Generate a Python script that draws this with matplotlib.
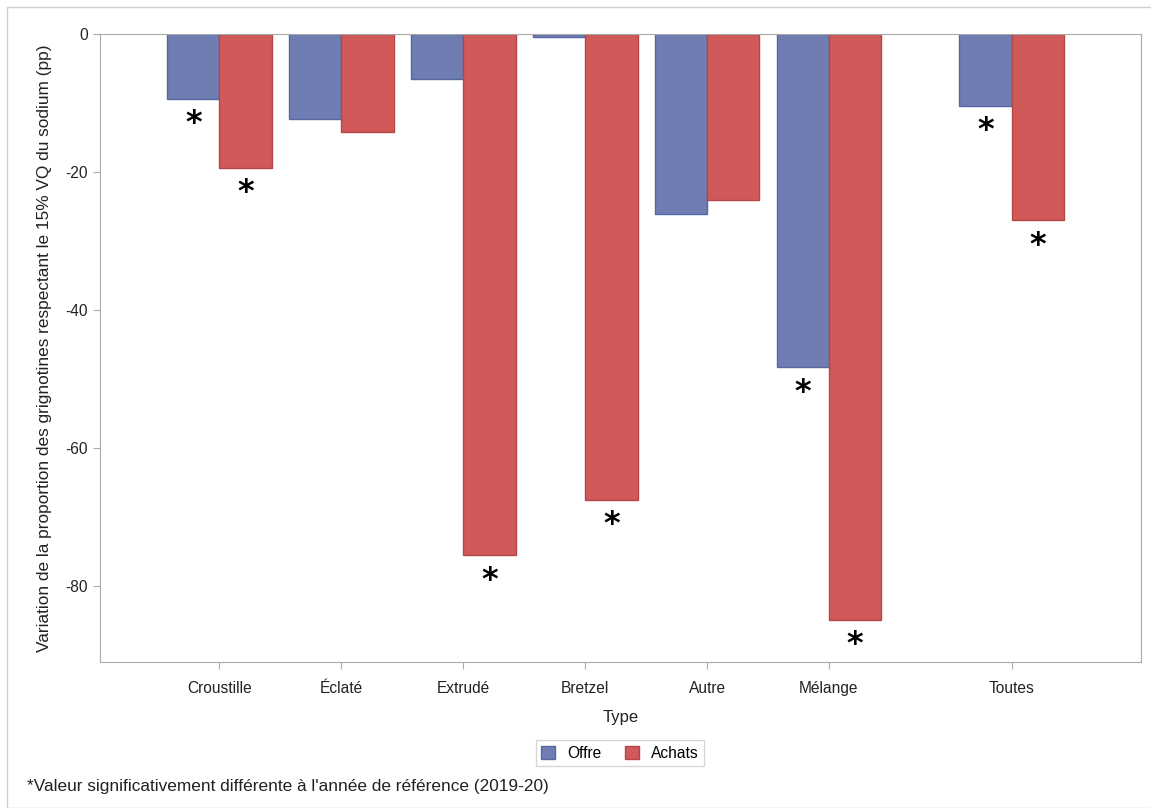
import numpy as np
import matplotlib
matplotlib.use('Agg')
import matplotlib.pyplot as plt
from matplotlib.patches import Rectangle

plt.rcParams['font.family'] = ['Liberation Sans', 'DejaVu Sans']
plt.rcParams['axes.unicode_minus'] = False

categories = ['Croustille', 'Éclaté', 'Extrudé', 'Bretzel', 'Autre', 'Mélange', 'Toutes']
positions = [0, 1, 2, 3, 4, 5, 6.5]
offre = [-9.4, -12.3, -6.5, -0.4, -26.1, -48.3, -10.4]
achats = [-19.4, -14.2, -75.5, -67.5, -24.1, -84.9, -27.0]
offre_sig = [True, False, False, False, False, True, True]
achats_sig = [True, False, True, True, False, True, True]

fig = plt.figure(figsize=(11.51, 8.08), dpi=100)
ax = fig.add_axes([0.0869, 0.1807, 0.9044, 0.7772])

# cadre gris autour de la figure
fig.patches.append(Rectangle((7 / 1151, 0), 1, 1 - 7 / 808, transform=fig.transFigure,
                             fill=False, edgecolor='#d0d0d0', linewidth=1))

w = 0.43
x = np.array(positions)
b1 = ax.bar(x - w / 2, offre, width=w, color='#6f7db3', edgecolor='#5566a3', linewidth=1, label='Offre')
b2 = ax.bar(x + w / 2, achats, width=w, color='#d05a5a', edgecolor='#b84545', linewidth=1, label='Achats')

for xi, v, s in zip(x - w / 2, offre, offre_sig):
    if s:
        ax.annotate('*', (xi, v), xytext=(0, -25), textcoords='offset pixels',
                    ha='center', va='center', fontsize=23, fontweight='bold', family='DejaVu Sans')
for xi, v, s in zip(x + w / 2, achats, achats_sig):
    if s:
        ax.annotate('*', (xi, v), xytext=(0, -25), textcoords='offset pixels',
                    ha='center', va='center', fontsize=23, fontweight='bold', family='DejaVu Sans')

ax.set_xlim(-0.98, 7.56)
ax.set_ylim(-91, 0)
ax.set_yticks([0, -20, -40, -60, -80])
ax.set_xticks(positions)
ax.set_xticklabels(categories)
for sp in ax.spines.values():
    sp.set_color('#aaaaaa')
ax.tick_params(colors='#aaaaaa', labelcolor='#222222', labelsize=11.2, length=5)
ax.tick_params(axis='x', pad=9)
ax.set_xlabel('Type', fontsize=12, color='#222222', labelpad=10)
ax.set_ylabel('Variation de la proportion des grignotines respectant le 15% VQ du sodium (pp)',
              fontsize=12.4, color='#222222', labelpad=10)

leg = fig.legend(handles=[b1, b2], loc='center', bbox_to_anchor=(620 / 1151, 1 - 753 / 808),
                 ncol=2, frameon=True, fancybox=False, fontsize=11.2, handlelength=0.9,
                 handleheight=0.9, columnspacing=1.5, handletextpad=0.8, borderpad=0.35)
leg.get_frame().set_edgecolor('#cccccc')
leg.get_frame().set_linewidth(1)

fig.text(27 / 1151, 1 - 786 / 808, "*Valeur significativement différente à l'année de référence (2019-20)",
         fontsize=12.4, color='#222222', va='center', ha='left')

fig.savefig('out.png', dpi=100)
